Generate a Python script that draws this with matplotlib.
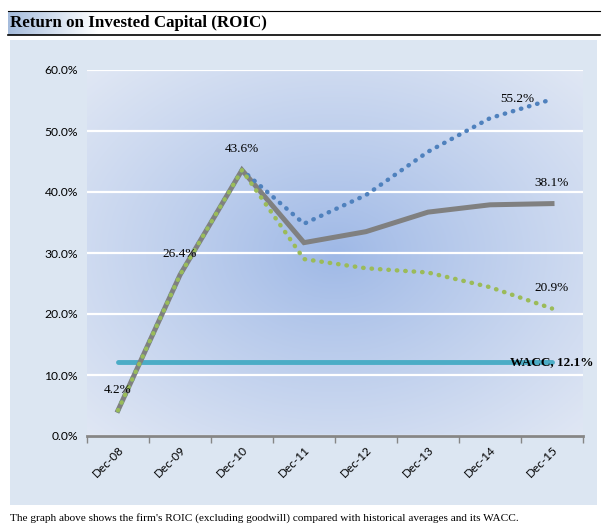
import numpy as np
import matplotlib.pyplot as plt
from matplotlib.patches import Rectangle
from matplotlib.lines import Line2D

# data
years = ['Dec-08', 'Dec-09', 'Dec-10', 'Dec-11', 'Dec-12', 'Dec-13', 'Dec-14', 'Dec-15']
roic = [4.2, 26.4, 43.6, 31.7, 33.5, 36.7, 37.9, 38.1]
roic_high = [4.2, 26.4, 43.6, 34.8, 39.5, 46.6, 52.1, 55.2]
roic_low = [4.2, 26.4, 43.6, 29.0, 27.5, 26.8, 24.4, 20.9]
wacc = [12.1] * 8
yticks = [0, 10, 20, 30, 40, 50, 60]

W, H = 608, 528
fig = plt.figure(figsize=(W / 100, H / 100), dpi=100)
fig.patch.set_facecolor('white')


def fx(px):
    return px / W


def fy(py):
    return 1 - py / H


# light blue chart area
fig.patches.append(Rectangle((fx(10), fy(505)), (597 - 10) / W, (505 - 40) / H,
                             transform=fig.transFigure, facecolor='#DCE6F2',
                             edgecolor='none', zorder=-5))

# title bar with gradient on the left
tax = fig.add_axes([fx(8), fy(35), 90 / W, 24 / H])
grad = np.linspace(0, 1, 200)
c0 = np.array([165, 188, 220]) / 255
c1 = np.array([255, 255, 255]) / 255
timg = c0 + (c1 - c0) * grad[None, :, None]
tax.imshow(np.repeat(timg, 2, axis=0), aspect='auto', extent=[0, 1, 0, 1])
tax.axis('off')
fig.lines.append(Line2D([fx(8), fx(600)], [fy(11), fy(11)], transform=fig.transFigure,
                        color='black', lw=0.8))
fig.lines.append(Line2D([fx(8), fx(600)], [fy(35), fy(35)], transform=fig.transFigure,
                        color='black', lw=1.2))
fig.text(fx(10), fy(23), 'Return on Invested Capital (ROIC)', family='Liberation Serif',
         fontweight='bold', fontsize=12.2, va='center', ha='left')

# main plot
ax = fig.add_axes([fx(87), fy(436), (583 - 87) / W, (436 - 70) / H])
x = np.arange(len(years))

# radial gradient in the plot area
ny, nx = 200, 300
yy, xx = np.mgrid[-1:1:ny * 1j, -1:1:nx * 1j]
r = np.sqrt((xx ** 2 + yy ** 2) / 2)
c_in = np.array([158, 184, 230]) / 255
c_out = np.array([224, 231, 244]) / 255
img = c_in + (c_out - c_in) * (r ** 0.9)[..., None]
ax.imshow(img, aspect='auto', extent=[-0.5, 7.5, 0, 60], zorder=0)

for v in yticks:
    ax.axhline(v, color='white', lw=1.6, zorder=1)

ax.plot(x, wacc, color='#4BACC6', lw=3.5, solid_capstyle='round', zorder=3)
ax.plot(x, roic, color='#808080', lw=3.6, solid_joinstyle='miter', zorder=4)
ax.plot(x, roic_high, color='#4F81BD', lw=3.2, ls=(0, (0.1, 1.8)),
        dash_capstyle='round', zorder=5)
ax.plot(x, roic_low, color='#9BBB59', lw=3.2, ls=(0, (0.1, 1.8)),
        dash_capstyle='round', zorder=6)

lab = dict(family='Liberation Serif', fontsize=9.5, ha='center', va='center', zorder=7)
for i in range(3):
    ax.annotate(f'{roic[i]:.1f}%', (x[i], roic[i]), xytext=(0, 15),
                textcoords='offset points', **lab)
ax.annotate(f'{roic[-1]:.1f}%', (x[-1], roic[-1]), xytext=(0, 15),
            textcoords='offset points', **lab)
ax.annotate(f'{roic_low[-1]:.1f}%', (x[-1], roic_low[-1]), xytext=(0, 15),
            textcoords='offset points', **lab)
ax.annotate(f'{roic_high[-1]:.1f}%', (x[-1], roic_high[-1]), xytext=(-25, 0),
            textcoords='offset points', **lab)
ax.annotate(f'WACC, {wacc[-1]:.1f}%', (x[-1], wacc[-1]), xytext=(0, 0),
            textcoords='offset points', fontweight='bold', **lab)

ax.set_xlim(-0.5, 7.5)
ax.set_ylim(0, 60)
for s in ['top', 'right', 'left']:
    ax.spines[s].set_visible(False)
ax.spines['bottom'].set_color('#868686')
ax.spines['bottom'].set_linewidth(2)
ax.spines['bottom'].set_zorder(8)

ax.set_xticks(np.arange(-0.5, 8, 1))
ax.set_xticklabels([])
ax.tick_params(axis='x', which='major', length=5, width=1, color='#868686', direction='out')
ax.set_xticks(x, minor=True)
ax.set_xticklabels(years, minor=True, rotation=45, ha='right', rotation_mode='anchor',
                   family='Lato', fontsize=8.5)
ax.tick_params(axis='x', which='minor', length=0, pad=6)

ax.set_yticks(yticks)
ax.set_yticklabels([f'{v:.1f}%' for v in yticks], family='Lato', fontsize=8.7)
ax.tick_params(axis='y', length=0, pad=6.5)

fig.text(fx(10), fy(518), "The graph above shows the firm's ROIC (excluding goodwill) compared with historical averages and its WACC.",
         family='Liberation Serif', fontsize=8.1, va='center', ha='left')

fig.savefig('out.png', dpi=100)
